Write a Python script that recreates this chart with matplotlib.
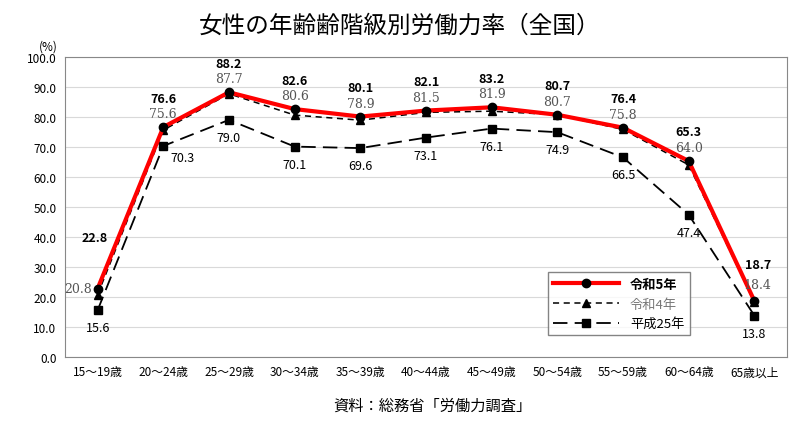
import matplotlib.pyplot as plt

plt.rcParams['font.family'] = ['Noto Sans CJK JP', 'DejaVu Sans']

ages = ['15～19歳', '20～24歳', '25～29歳', '30～34歳', '35～39歳', '40～44歳',
        '45～49歳', '50～54歳', '55～59歳', '60～64歳', '65歳以上']
r5 = [22.8, 76.6, 88.2, 82.6, 80.1, 82.1, 83.2, 80.7, 76.4, 65.3, 18.7]
r4 = [20.8, 75.6, 87.7, 80.6, 78.9, 81.5, 81.9, 80.7, 75.8, 64.0, 18.4]
h25 = [15.6, 70.3, 79.0, 70.1, 69.6, 73.1, 76.1, 74.9, 66.5, 47.4, 13.8]

x = list(range(len(ages)))
fig = plt.figure(figsize=(8, 4.35), dpi=100)
ax = fig.add_axes([0.081, 0.177, 0.903, 0.69])

ax.plot(x, h25, color='black', lw=1.3, ls=(0, (8, 4)), marker='s', ms=6, label='平成25年')
ax.plot(x, r4, color='black', lw=1.1, ls=(0, (4, 3)), marker='^', ms=6, label='令和4年')
ax.plot(x, r5, color='red', lw=3, marker='o', ms=6, mfc='black', mec='black', label='令和5年')

for i in x:
    if i == 0:
        ax.text(i - 0.05, r5[i] + 16, f'{r5[i]:.1f}', ha='center', fontsize=9, fontweight='bold')
        ax.text(i - 0.3, r4[i] + 1, f'{r4[i]:.1f}', ha='center', fontsize=9, color='#555555', family='serif')
    elif i == 10:
        ax.text(i + 0.05, r5[i] + 11, f'{r5[i]:.1f}', ha='center', fontsize=9, fontweight='bold')
        ax.text(i + 0.05, r4[i] + 4.5, f'{r4[i]:.1f}', ha='center', fontsize=9, color='#555555', family='serif')
    else:
        ax.text(i, r5[i] + 8.5, f'{r5[i]:.1f}', ha='center', fontsize=9, fontweight='bold')
        ax.text(i, r5[i] + 3.3, f'{r4[i]:.1f}', ha='center', fontsize=9, color='#555555', family='serif')
    if i == 1:
        ax.text(i + 0.3, h25[i] - 5, f'{h25[i]:.1f}', ha='center', fontsize=9)
    else:
        ax.text(i, h25[i] - 7, f'{h25[i]:.1f}', ha='center', fontsize=9)

ax.set_xlim(-0.5, 10.5)
ax.set_ylim(0, 100)
ax.set_yticks(range(0, 101, 10))
ax.set_yticklabels([f'{v:.1f}' for v in range(0, 101, 10)], fontsize=8.5)
ax.set_xticks(x)
ax.set_xticklabels(ages, fontsize=8.5)
ax.grid(axis='y', color='#d9d9d9', lw=0.8)
ax.set_axisbelow(True)
ax.tick_params(length=0, pad=6)
for s in ax.spines.values():
    s.set_color('#888888')
ax.text(-0.75, 101.5, '(%)', fontsize=8.5, ha='center', va='bottom')

h, l = ax.get_legend_handles_labels()
leg = ax.legend(h[::-1], l[::-1], loc='lower left', bbox_to_anchor=(0.66, 0.05),
                fancybox=False, edgecolor='#666666', fontsize=9.5, handlelength=5)
leg.get_texts()[0].set_fontweight('bold')
leg.get_texts()[1].set_color('#777777')

fig.text(0.5, 0.925, '女性の年齢齢階級別労働力率（全国）', ha='center', fontsize=17)
fig.text(0.54, 0.055, '資料：総務省「労働力調査」', ha='center', fontsize=11)
fig.savefig('out.png', dpi=100)
